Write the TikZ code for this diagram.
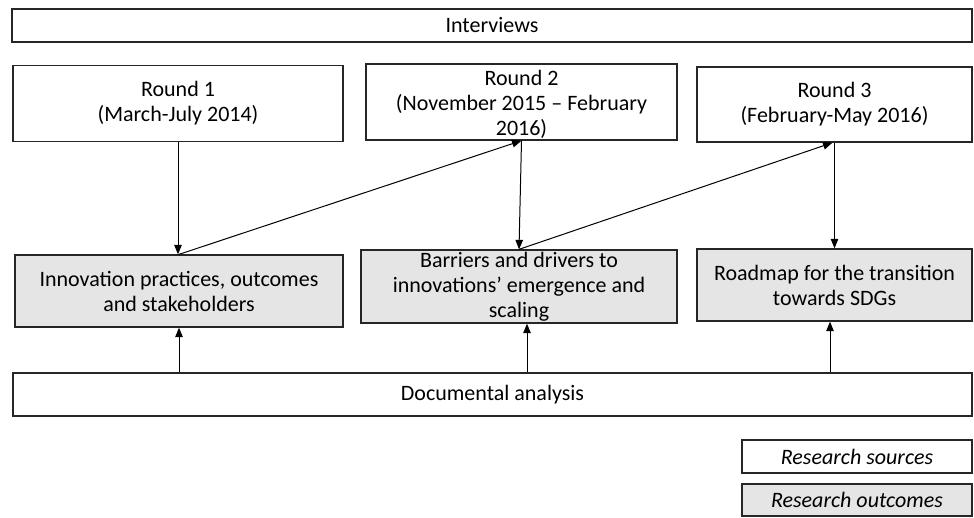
\documentclass[tikz,border=0pt]{standalone}
\usepackage{fontspec}
\setmainfont{Carlito}
\usetikzlibrary{arrows.meta,positioning}

\begin{document}
\begin{tikzpicture}[
  x=1pt,
  y=-1pt,
  >={Triangle[length=9.5pt,width=7.5pt]},
  srcbox/.style={draw=black!85, line width=1.3pt, fill=white, inner sep=0pt, align=center, font=\fontsize{22}{25}\selectfont},
  outbox/.style={srcbox, fill=black!10},
  plain/.style={inner sep=0pt, align=center, font=\fontsize{22}{25}\selectfont},
  flow/.style={->, line width=1pt, draw=black},
]
\useasboundingbox (0,0) rectangle (974,517);

% sources
\node[srcbox, minimum width=960, minimum height=33] (intv) at (492,25.5) {Interviews};
\node[srcbox, minimum width=330, minimum height=76] (r1) at (178,103.5) {Round 1\\(March-July 2014)};
\node[srcbox, minimum width=311, minimum height=76] (r2) at (521.5,102) {};
\node[plain] (r2txt) at ([yshift=-2pt]r2.center) {Round 2\\(November 2015 – February\\2016)};
\node[srcbox, minimum width=275, minimum height=75] (r3) at (834.5,104.5) {Round 3\\(February-May 2016)};

% outcomes
\node[outbox, minimum width=328, minimum height=72] (o1) at (179,291) {Innovation practices, outcomes\\and stakeholders};
\node[outbox, minimum width=316, minimum height=73] (o2) at (519,286.5) {Barriers and drivers to\\innovations’ emergence and\\scaling};
\node[outbox, minimum width=275, minimum height=72] (o3) at (834.5,285) {Roadmap for the transition\\towards SDGs};

\node[srcbox, minimum width=959, minimum height=43] (doc) at (492.5,394.5) {Documental analysis};

% legend
\node[srcbox, minimum width=230, minimum height=33, font=\fontsize{22}{25}\selectfont\itshape] (legsrc) at (857,456.5) {Research sources};
\node[outbox, minimum width=230, minimum height=32, font=\fontsize{22}{25}\selectfont\itshape] (legout) at (857,500) {Research outcomes};

% interview flows
\draw[flow] (r1.south) -- (r1.south |- o1.north);
\draw[flow] (o1.north) -- (r2.south);
\draw[flow] (r2.south) -- (o2.north);
\coordinate (r3in) at ([xshift=-2pt]r3.south);
\draw[flow] (o2.north) -- (r3in);
\draw[flow] (r3.south) -- (o3.north);

% documental flows
\coordinate (o2in) at ([xshift=8pt]o2.south);
\coordinate (o3in) at ([xshift=-4.5pt]o3.south);
\draw[flow] (doc.north -| o1.south) -- (o1.south);
\draw[flow] (doc.north -| o2in) -- (o2in);
\draw[flow] (doc.north -| o3in) -- (o3in);

\end{tikzpicture}
\end{document}
